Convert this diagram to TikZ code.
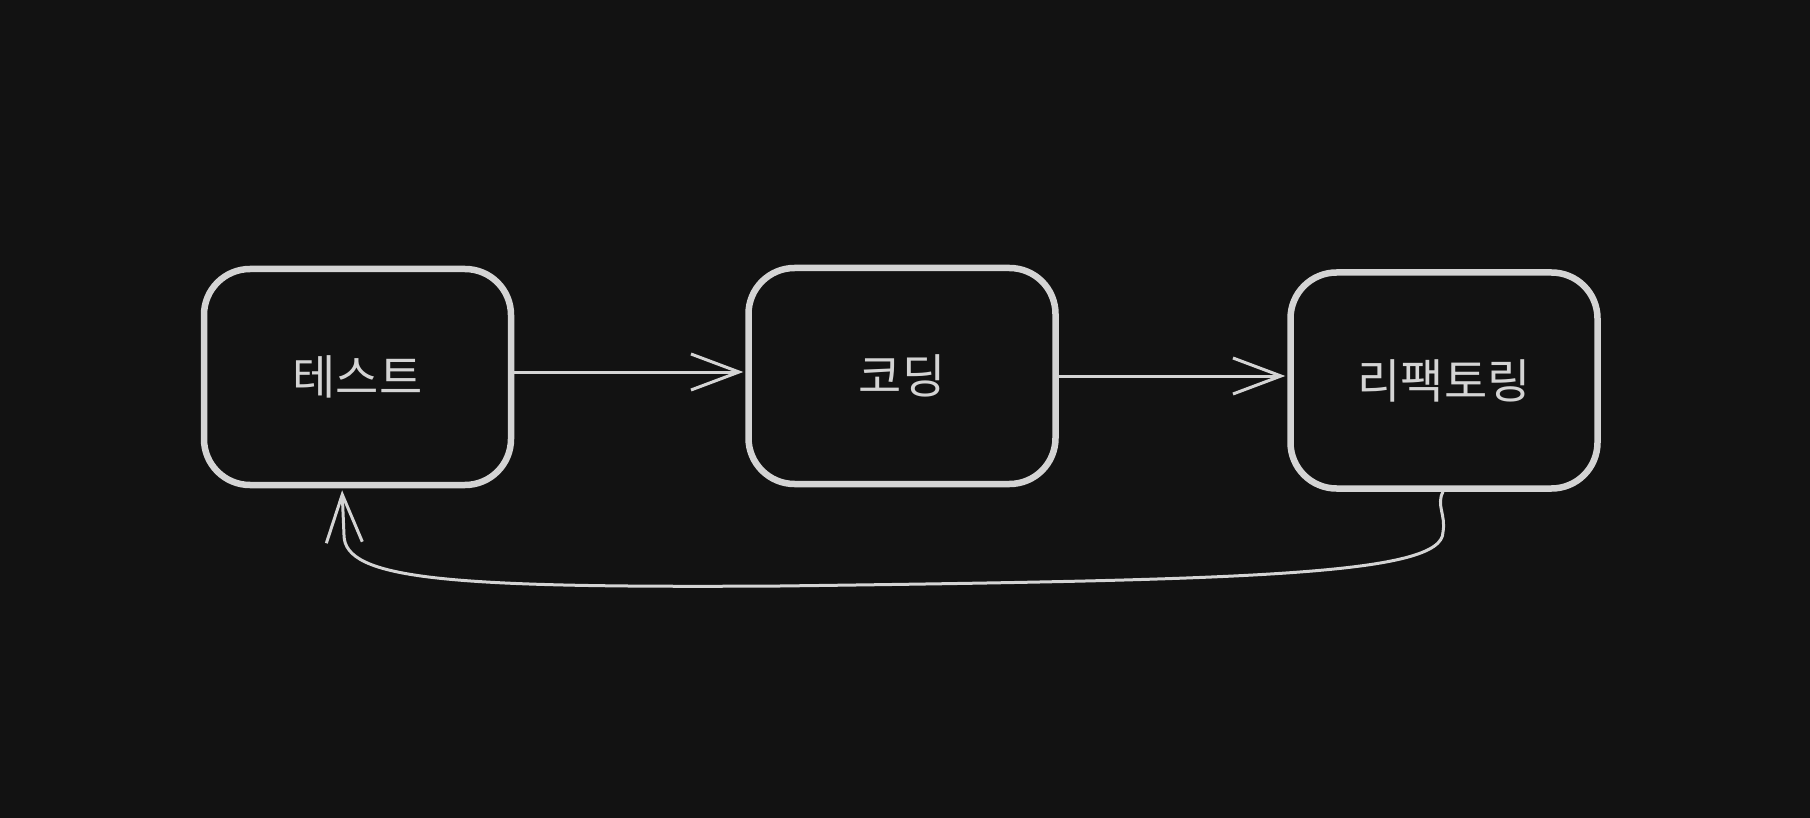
\documentclass[tikz,border=0pt]{standalone}
\usepackage{fontspec}
\newfontfamily\kr{Noto Sans CJK KR}
\usetikzlibrary{arrows.meta}
\definecolor{bg}{HTML}{121212}
\definecolor{fg}{HTML}{D4D4D4}
\tikzset{
  stepbox/.style={draw=fg, line width=6.5pt, rounded corners=46pt, minimum width=307pt, minimum height=216pt, inner sep=0pt, text=fg, font=\kr\fontsize{47}{50}\selectfont},
  conn/.style={draw=fg, line width=3pt, -{Straight Barb[length=48pt,width=36pt,line width=3pt]}, shorten >=2pt},
}
\begin{document}
\begin{tikzpicture}[x=1pt,y=-1pt]
\fill[bg] (0,0) rectangle (1810,818);
\useasboundingbox (0,0) rectangle (1810,818);
\node[stepbox] (b1) at (357.5,377) {테스트};
\node[stepbox] (b2) at (902,376) {코딩};
\node[stepbox] (b3) at (1444,380.5) {리팩토링};
\draw[conn] ([yshift=5pt]b1.east) -- ([yshift=5pt]b1.east -| b2.west);
\draw[conn] (b2.east) -- (b2.east -| b3.west);
\coordinate (c1) at (1443,532);
\draw[conn] ([xshift=-1pt]b3.south) .. controls (1436,505) and (1446,515) .. (c1)
  .. controls (1443,575) and (1250,580) .. (780,586)
  .. controls (450,588) and (344,580) .. (344,535)
  -- ([xshift=-15.5pt]b1.south);
\end{tikzpicture}
\end{document}
